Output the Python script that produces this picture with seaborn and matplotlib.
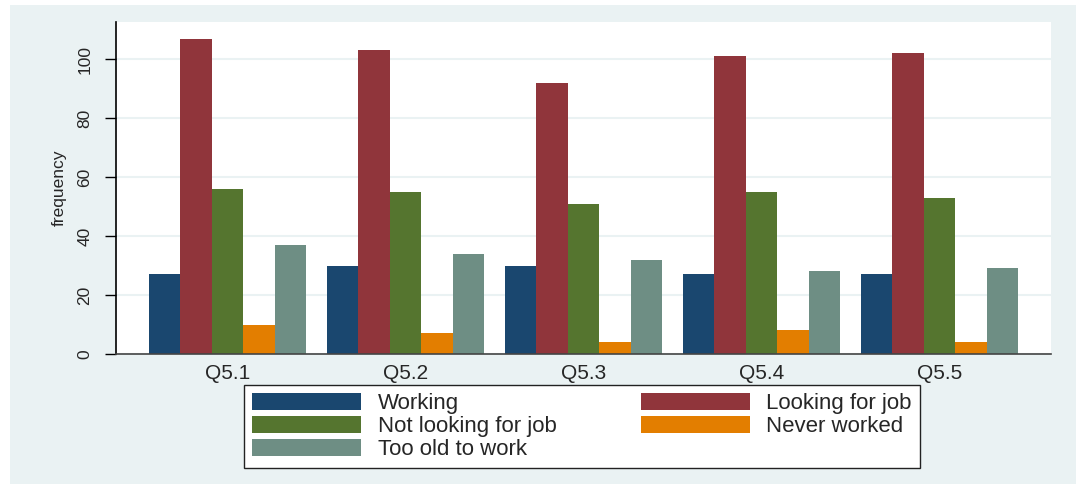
import pandas as pd
import seaborn as sns
import matplotlib.pyplot as plt
from matplotlib.patches import Rectangle

# categories and values
questions = ["Q5.1", "Q5.2", "Q5.3", "Q5.4", "Q5.5"]
statuses = ["Working", "Looking for job", "Not looking for job", "Never worked", "Too old to work"]
working = [27, 30, 30, 27, 27]
looking = [107, 103, 92, 101, 102]
not_looking = [56, 55, 51, 55, 53]
never_worked = [10, 7, 4, 8, 4]
too_old = [37, 34, 32, 28, 29]

# Stata s2color palette
colors = ["#1a476f", "#90353b", "#55752f", "#e37e00", "#6e8e84"]
bg = "#eaf2f3"

rows = []
for vals, status in zip([working, looking, not_looking, never_worked, too_old], statuses):
    for q, v in zip(questions, vals):
        rows.append({"question": q, "status": status, "frequency": v})
df = pd.DataFrame(rows)

sns.set_style("white")
plt.rcParams["font.family"] = ["Liberation Sans", "DejaVu Sans"]

fig = plt.figure(figsize=(10.76, 4.84), dpi=100)
fig.patch.set_facecolor("white")
fig.patches.append(Rectangle((10 / 1076, 0), 1, 1 - 5 / 484, transform=fig.transFigure,
                             facecolor=bg, edgecolor="none", zorder=-10))

ax = fig.add_axes([116 / 1076, 1 - 354 / 484, (1051 - 116) / 1076, (354 - 22) / 484])
sns.barplot(data=df, x="question", y="frequency", hue="status", order=questions,
            hue_order=statuses, palette=colors, saturation=1, width=0.883,
            linewidth=0, ax=ax)

ax.set_facecolor("white")
ax.set_xlim(-0.627, 4.627)
ax.set_ylim(0, 112.6)
ax.set_yticks([0, 20, 40, 60, 80, 100])
ax.yaxis.grid(True, color=bg, linewidth=1.5)
ax.set_axisbelow(True)
for s in ["top", "right"]:
    ax.spines[s].set_visible(False)
ax.spines["left"].set_color("black")
ax.spines["bottom"].set_color("#444444")
ax.spines["left"].set_linewidth(1.2)
ax.spines["bottom"].set_linewidth(1.2)

ax.tick_params(axis="y", length=8, width=1, color="black", pad=9, direction="out", left=True)
ax.tick_params(axis="x", length=0, pad=7)
for t in ax.get_yticklabels():
    t.set_rotation(90)
    t.set_va("center")
    t.set_fontsize(12.5)
for t in ax.get_xticklabels():
    t.set_fontsize(15)

ax.set_xlabel("")
ax.set_ylabel("frequency", fontsize=12.5, labelpad=8)

handles, labels = ax.get_legend_handles_labels()
ax.get_legend().remove()
order = [0, 2, 4, 1, 3]
leg = fig.legend([handles[i] for i in order], [labels[i] for i in order],
                 ncol=2, loc="center", bbox_to_anchor=(582 / 1076, 1 - 426.5 / 484),
                 fontsize=16, frameon=True, fancybox=False, handlelength=4.9,
                 handleheight=0.78, handletextpad=0.75, columnspacing=3.8,
                 labelspacing=0.08, borderpad=0.35, borderaxespad=0)
leg.get_frame().set_edgecolor("#222222")
leg.get_frame().set_linewidth(1.0)
leg.get_frame().set_facecolor("white")
leg.get_frame().set_alpha(1)

fig.savefig("out.png", dpi=100, facecolor=fig.get_facecolor())
